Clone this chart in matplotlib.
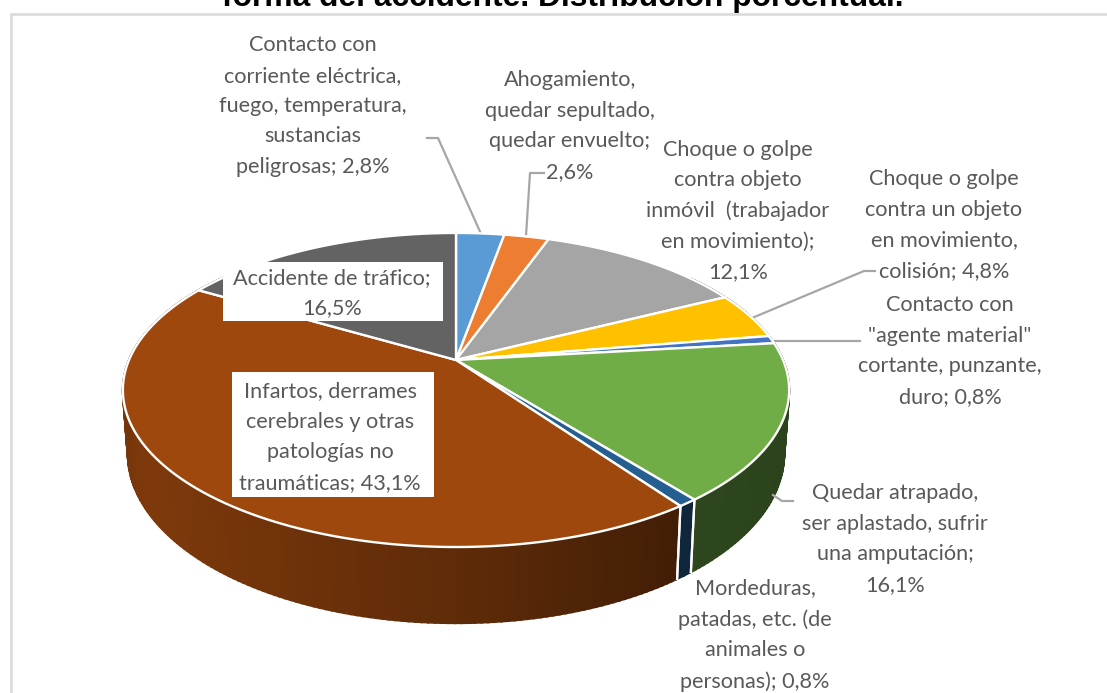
import numpy as np
from matplotlib import pyplot as plt
from matplotlib.colors import to_rgb
from matplotlib.patches import Polygon, Rectangle

# slices, clockwise from 12 o'clock
names = ["Contacto con\ncorriente eléctrica,\nfuego, temperatura,\nsustancias\npeligrosas; 2,8%",
	"Ahogamiento,\nquedar sepultado,\nquedar envuelto;\n2,6%",
	"Choque o golpe\ncontra objeto\ninmóvil  (trabajador\nen movimiento);\n12,1%",
	"Choque o golpe\ncontra un objeto\nen movimiento,\ncolisión; 4,8%",
	"Contacto con\n\"agente material\"\ncortante, punzante,\nduro; 0,8%",
	"Quedar atrapado,\nser aplastado, sufrir\nuna amputación;\n16,1%",
	"Mordeduras,\npatadas, etc. (de\nanimales o\npersonas); 0,8%",
	"Infartos, derrames\ncerebrales y otras\npatologías no\ntraumáticas; 43,1%",
	"Accidente de tráfico;\n16,5%"]
values = [2.8, 2.6, 12.1, 4.8, 0.8, 16.1, 0.8, 43.1, 16.5]
colors = ['#5B9BD5', '#ED7D31', '#A5A5A5', '#FFC000', '#4472C4', '#70AD47', '#255E91', '#9E480E', '#636363']
label_pos = [(313, 106), (570, 126), (738, 211), (944, 225), (950, 351), (895, 539), (755, 635), (330, 437), (332, 293)]

title = "forma del accidente. Distribución porcentual."

plt.rcParams['font.family'] = ['Lato', 'DejaVu Sans']
TEXT = '#595959'
LINE = '#A6A6A6'

# pie centre, radius and perspective of the tilted disc
CX, CY = 456, 360
RX, RY, K = 327, 151.3, 0.191
DEPTH, SHRINK = 61.5, 0.985


def top_pt(th):
	x, y = np.sin(th), np.cos(th)
	w = 1 / (1 + K * y)
	return CX + RX * x * w, CY - RY * y * w


def bottom_pt(th):
	x, y = np.sin(th), np.cos(th)
	w = 1 / (1 + K * y)
	return CX + RX * SHRINK * x * w, CY - RY * y * w + DEPTH * w


def side_shade(th):
	return np.interp(np.sin(th), [-1, -0.85, -0.5, 0, 0.6, 1], [0.74, 0.8, 0.72, 0.6, 0.41, 0.38])


fig = plt.figure(figsize=(11.07, 6.93), dpi=100)
ax = fig.add_axes([0, 0, 1, 1])
ax.set_xlim(0, 1107)
ax.set_ylim(693, 0)
ax.axis('off')

# chart frame
ax.plot([1107, 10.5, 10.5], [13.5, 13.5, 693], color='#D9D9D9', lw=1.8, solid_joinstyle='miter')

edges = 2 * np.pi * np.cumsum([0] + values) / sum(values)
edges[-1] = 2 * np.pi

# side wall first
for i, c in enumerate(colors):
	base = np.array(to_rgb(c))
	ths = np.linspace(edges[i], edges[i + 1], max(int((edges[i + 1] - edges[i]) * 60), 2))
	for a, b in zip(ths[:-1], ths[1:]):
		if np.cos((a + b) / 2) > 0.6:
			continue
		col = base * side_shade((a + b) / 2)
		quad = [top_pt(a), top_pt(b), bottom_pt(b), bottom_pt(a)]
		ax.add_patch(Polygon(quad, fc=col, ec=col, lw=1.6, zorder=2))
	for e in (edges[i], edges[i + 1]):
		if np.pi * 0.5 < e < np.pi * 1.5:
			p, q = top_pt(e), bottom_pt(e)
			ax.plot([p[0], q[0]], [p[1], q[1]], color='white', lw=1.6, zorder=3)

# top faces
for i, c in enumerate(colors):
	ths = np.linspace(edges[i], edges[i + 1], 120)
	pts = [(CX, CY)] + [top_pt(t) for t in ths]
	ax.add_patch(Polygon(pts, fc=c, ec='white', lw=1.7, joinstyle='round', zorder=4))

# leader lines
leaders = [([427, 438, 482], [138, 138, 236]),
	([544, 530, 526], [173, 173, 236]),
	([875, 864, 752], [271, 271, 318]),
	([772, 860], [341, 341]),
	([793, 782, 773], [501, 501, 495])]
for xs, ys in leaders:
	ax.plot(xs, ys, color=LINE, lw=1.6, zorder=3.5)

# white boxes under the two labels inside the pie
ax.add_patch(Rectangle((223, 262), 220, 59, fc='white', ec='none', zorder=5))
ax.add_patch(Rectangle((232, 372), 202, 125, fc='white', ec='none', zorder=5))

for s, (x, y) in zip(names, label_pos):
	ax.text(x, y, s, ha='center', va='center', multialignment='center', fontsize=15.6, color=TEXT, linespacing=1.65, zorder=6)

ax.text(563, 6, title, ha='center', va='baseline', fontsize=22.9, fontweight='bold', family=['Liberation Sans', 'DejaVu Sans'], color='black')

fig.savefig('out.png', dpi=100)
